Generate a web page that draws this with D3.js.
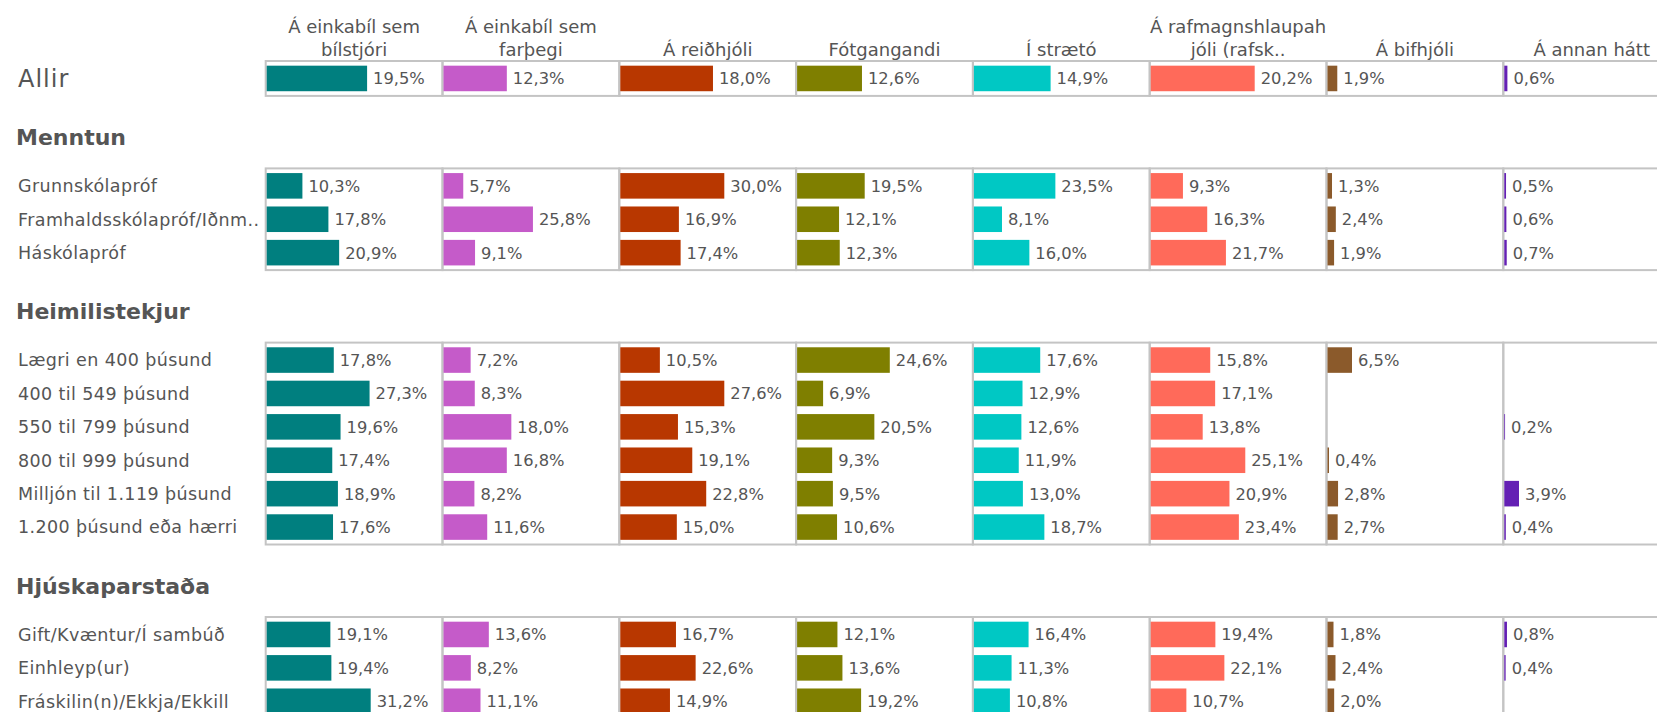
<!DOCTYPE html>
<html lang="is">
<head>
<meta charset="utf-8">
<title>Ferðamáti eftir bakgrunni</title>
<script src="https://cdn.jsdelivr.net/npm/d3@7"></script>
<style>
  html, body { margin: 0; padding: 0; background: #ffffff; }
  svg { display: block; font-family: "DejaVu Sans", sans-serif; }
</style>
</head>
<body>
<svg id="chart" width="1657" height="712"></svg>
<script>
// Travel modes (columns)
const modes = [
  "Á einkabíl sem bílstjóri",
  "Á einkabíl sem farþegi",
  "Á reiðhjóli",
  "Fótgangandi",
  "Í strætó",
  "Á rafmagnshlaupahjóli (rafsk..",
  "Á bifhjóli",
  "Á annan hátt"
];
const modeHeaderLines = [
  ["Á einkabíl sem", "bílstjóri"],
  ["Á einkabíl sem", "farþegi"],
  ["Á reiðhjóli"],
  ["Fótgangandi"],
  ["Í strætó"],
  ["Á rafmagnshlaupah", "jóli (rafsk.."],
  ["Á bifhjóli"],
  ["Á annan hátt"]
];
const modeColors = ["#007f7f", "#c55bc9", "#b83700", "#7f7f00", "#00c8c4", "#ff6a5a", "#8b5a2b", "#6420b4"];

// All respondents
const allRowLabel = ["Allir"];
const allValues = [[19.5, 12.3, 18.0, 12.6, 14.9, 20.2, 1.9, 0.6]];

// Education
const educationTitle = "Menntun";
const educationRows = ["Grunnskólapróf", "Framhaldsskólapróf/Iðnm..", "Háskólapróf"];
const educationValues = [
  [10.3, 5.7, 30.0, 19.5, 23.5, 9.3, 1.3, 0.5],
  [17.8, 25.8, 16.9, 12.1, 8.1, 16.3, 2.4, 0.6],
  [20.9, 9.1, 17.4, 12.3, 16.0, 21.7, 1.9, 0.7]
];

// Household income
const incomeTitle = "Heimilistekjur";
const incomeRows = [
  "Lægri en 400 þúsund",
  "400 til 549 þúsund",
  "550 til 799 þúsund",
  "800 til 999 þúsund",
  "Milljón til 1.119 þúsund",
  "1.200 þúsund eða hærri"
];
const incomeValues = [
  [17.8, 7.2, 10.5, 24.6, 17.6, 15.8, 6.5, null],
  [27.3, 8.3, 27.6, 6.9, 12.9, 17.1, null, null],
  [19.6, 18.0, 15.3, 20.5, 12.6, 13.8, null, 0.2],
  [17.4, 16.8, 19.1, 9.3, 11.9, 25.1, 0.4, null],
  [18.9, 8.2, 22.8, 9.5, 13.0, 20.9, 2.8, 3.9],
  [17.6, 11.6, 15.0, 10.6, 18.7, 23.4, 2.7, 0.4]
];

// Marital status
const maritalTitle = "Hjúskaparstaða";
const maritalRows = ["Gift/Kvæntur/Í sambúð", "Einhleyp(ur)", "Fráskilin(n)/Ekkja/Ekkill"];
const maritalValues = [
  [19.1, 13.6, 16.7, 12.1, 16.4, 19.4, 1.8, 0.8],
  [19.4, 8.2, 22.6, 13.6, 11.3, 22.1, 2.4, 0.4],
  [31.2, 11.1, 14.9, 19.2, 10.8, 10.7, 2.0, null]
];

const sections = [
  { title: null, rows: allRowLabel, values: allValues, big: true },
  { title: educationTitle, rows: educationRows, values: educationValues },
  { title: incomeTitle, rows: incomeRows, values: incomeValues },
  { title: maritalTitle, rows: maritalRows, values: maritalValues }
];

// Layout
const svg = d3.select("#chart");
const panelLeft = 265.7;
const panelStep = 176.8;
const rowStep = 33.4;
const firstTop = 61;
const sectionGap = 72.5;
const textColor = "#555555";
const borderColor = "#c4c4c4";
const fmt = v => d3.format(".1f")(v).replace(".", ",") + "%";

const xPanel = d3.scaleBand()
  .domain(modes)
  .range([panelLeft, panelLeft + panelStep * modes.length]);

// Column headers
const headers = svg.append("g").attr("class", "headers");
modes.forEach((m, i) => {
  const lines = modeHeaderLines[i];
  const cx = xPanel(m) + xPanel.bandwidth() / 2;
  const t = headers.append("text")
    .attr("x", cx)
    .attr("text-anchor", "middle")
    .attr("fill", textColor)
    .style("font-size", "18px");
  lines.forEach((ln, j) => {
    t.append("tspan")
      .attr("x", cx)
      .attr("y", 56 - (lines.length - 1 - j) * 23)
      .text(ln);
  });
});

let sectionTop = firstTop;
sections.forEach(sec => {
  const n = sec.rows.length;
  const height = rowStep * (n + 0.045);
  const y = d3.scaleBand()
    .domain(sec.rows)
    .range([sectionTop, sectionTop + height])
    .paddingInner(0.235)
    .paddingOuter(0.14);

  const maxVal = d3.max(sec.values.flat().filter(v => v != null));
  const x = d3.scaleLinear().domain([0, maxVal * 1.7]).range([0, panelStep]);

  const g = svg.append("g");

  if (sec.title) {
    g.append("text")
      .attr("x", 16)
      .attr("y", sectionTop - 31)
      .attr("dy", "0.35em")
      .attr("fill", textColor)
      .style("font-size", "22px")
      .style("font-weight", "bold")
      .text(sec.title);
  }

  // Row labels
  g.selectAll("text.row")
    .data(sec.rows)
    .join("text")
    .attr("class", "row")
    .attr("x", 18)
    .attr("y", d => y(d) + y.bandwidth() / 2)
    .attr("dy", "0.36em")
    .attr("fill", textColor)
    .style("font-size", sec.big ? "24px" : "17.5px")
    .style("letter-spacing", sec.big ? "1px" : "0.4px")
    .text(d => d);

  // Panels, bars and value labels
  modes.forEach((m, ci) => {
    const px = xPanel(m);
    g.append("rect")
      .attr("x", px)
      .attr("y", sectionTop)
      .attr("width", panelStep)
      .attr("height", height)
      .attr("fill", "none")
      .attr("stroke", borderColor)
      .attr("stroke-width", 2);

    const cells = sec.rows.map((r, ri) => ({ row: r, v: sec.values[ri][ci] }))
      .filter(d => d.v != null);

    g.selectAll(null)
      .data(cells)
      .join("rect")
      .attr("x", px + 1)
      .attr("y", d => y(d.row))
      .attr("width", d => x(d.v))
      .attr("height", y.bandwidth())
      .attr("fill", modeColors[ci]);

    g.selectAll(null)
      .data(cells)
      .join("text")
      .attr("x", d => px + 1 + x(d.v) + 6)
      .attr("y", d => y(d.row) + y.bandwidth() / 2)
      .attr("dy", "0.36em")
      .attr("fill", textColor)
      .style("font-size", "16.3px")
      .text(d => fmt(d.v));
  });

  sectionTop = sectionTop + height + sectionGap;
});
</script>
</body>
</html>
